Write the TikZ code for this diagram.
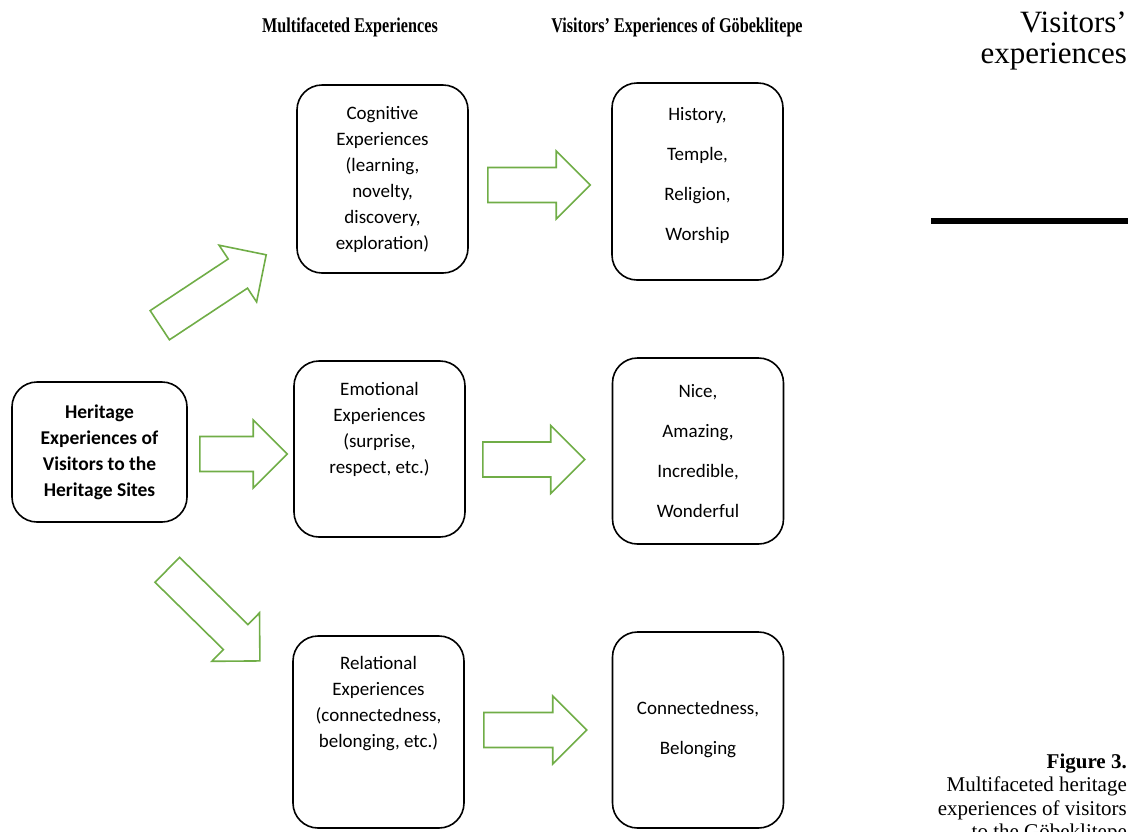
\documentclass[tikz,border=0pt]{standalone}
\usepackage{fontspec}
\setmainfont{Liberation Serif}
\newfontfamily\carlito{Carlito}
\usetikzlibrary{calc}

\definecolor{arrowgreen}{RGB}{112,173,71}
\tikzset{
  expbox/.style = {draw, line width=1.6pt, rounded corners=25pt, minimum width=171pt},
  boxtext/.style = {align=center, inner sep=0pt, font=\carlito\fontsize{19}{26}\selectfont},
  listtext/.style = {align=center, inner sep=0pt, font=\carlito\fontsize{19}{40}\selectfont},
  bigarrow/.style = {draw=arrowgreen, line width=1.6pt, line join=miter},
  colhead/.style = {inner sep=0pt, font=\bfseries\fontsize{21}{24}\selectfont}
}
% hollow block arrow from tail centre #1 to tip #2
\newcommand{\blockarrow}[2]{%
  \draw[bigarrow] let \p1=#1, \p2=#2,
      \n1={atan2(\y2-\y1,\x2-\x1)}, \n2={veclen(\x2-\x1,\y2-\y1)} in
    [shift={(\p1)}, rotate=\n1]
    (0pt,17.5pt) -- (\n2-34pt,17.5pt) -- (\n2-34pt,34pt) -- (\n2,0pt)
    -- (\n2-34pt,-34pt) -- (\n2-34pt,-17.5pt) -- (0pt,-17.5pt) -- cycle;}

\begin{document}
\begin{tikzpicture}[x=1pt, y=-1pt]
  \useasboundingbox (0,0) rectangle (1128,831);

  % column headings
  \node[colhead] (head1) at (350,27) {\scalebox{0.77}[1]{Multifaceted Experiences}};
  \node[colhead] (head2) at (677,27) {\scalebox{0.77}[1]{Visitors’ Experiences of Göbeklitepe}};

  % margin
  \node[anchor=base east, align=right, inner sep=0pt, font=\fontsize{31}{31}\selectfont]
    (margin) at (1127,63) {Visitors’\\experiences};
  \draw[line width=6pt] (931,221) -- (1128,221);
  \node[anchor=base east, align=right, inner sep=0pt, font=\fontsize{21}{23.5}\selectfont]
    (caption) at (1127,838.5) {\textbf{Figure 3.}\\Multifaceted heritage\\experiences of visitors\\to the Göbeklitepe};

  % boxes
  \node[expbox, minimum width=175pt, minimum height=140pt] (her) at (99.5,452) {};
  \node[expbox, minimum height=188pt] (cog) at (382.5,179) {};
  \node[expbox, minimum height=176pt] (emo) at (379.5,449) {};
  \node[expbox, minimum height=192pt] (rel) at (378.5,732) {};
  \node[expbox, minimum height=197pt] (hist) at (697.5,181.5) {};
  \node[expbox, minimum height=186pt] (nice) at (698,451) {};
  \node[expbox, minimum height=196pt] (conn) at (698,730) {};

  % texts
  \node[boxtext, font=\carlito\bfseries\fontsize{19.5}{26}\selectfont] (hertxt) at (her)
    {Heritage\\Experiences of\\Visitors to the\\Heritage Sites};
  \node[boxtext] (cogtxt) at (cog)
    {Cognitive\\Experiences\\(learning,\\novelty,\\discovery,\\exploration)};
  \node[boxtext] (emotxt) at ($(emo)+(0,-20)$)
    {Emotional\\Experiences\\(surprise,\\respect, etc.)};
  \node[boxtext] (reltxt) at ($(rel)+(0,-28)$)
    {Relational\\Experiences\\(connectedness,\\belonging, etc.)};
  \node[listtext] (histtxt) at ($(hist)+(0,-6)$) {History,\\Temple,\\Religion,\\Worship};
  \node[listtext] (nicetxt) at (nice) {Nice,\\Amazing,\\Incredible,\\Wonderful};
  \node[listtext] (conntxt) at (conn) {Connectedness,\\Belonging};

  % arrows
  \blockarrow{($(her.north east)+(-28,-56)$)}{($(cog.south west)+(-30,-19)$)}
  \blockarrow{($(her.east)+(12,2)$)}{($(emo.west)+(-6,5)$)}
  \blockarrow{($(her.south east)+(-20.5,47)$)}{($(rel.north west)+(-32,26)$)}
  \blockarrow{($(cog.east)+(19,6)$)}{($(hist.west)+(-21,3.5)$)}
  \blockarrow{($(emo.east)+(17,10.5)$)}{($(nice.west)+(-27,8.5)$)}
  \blockarrow{($(rel.east)+(19,-2)$)}{($(conn.west)+(-25,0)$)}
\end{tikzpicture}
\end{document}
